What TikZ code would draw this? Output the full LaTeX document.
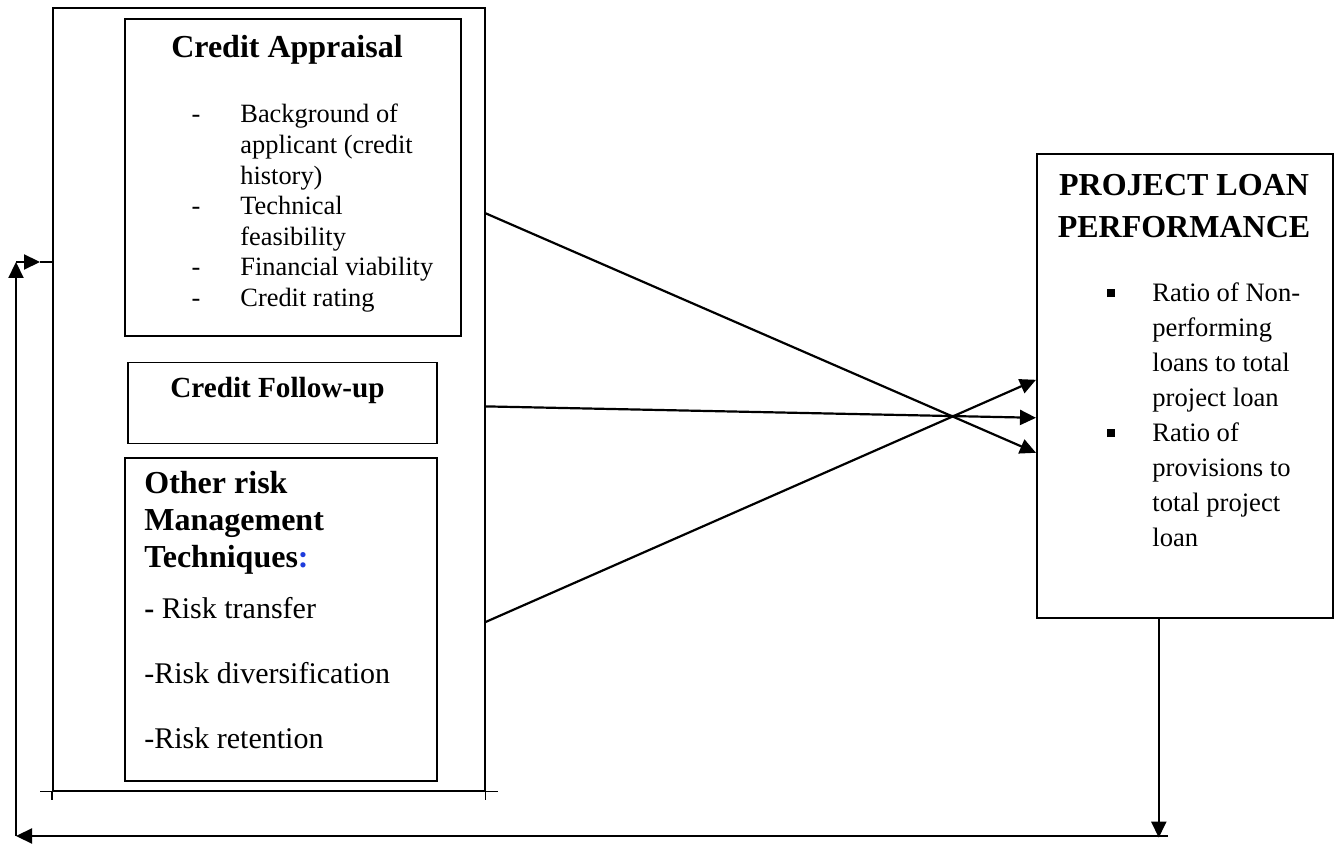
\documentclass[tikz,border=0pt]{standalone}
\usepackage{fontspec}
\setmainfont{Liberation Serif}
\usetikzlibrary{positioning,arrows.meta,calc}
\definecolor{colonblue}{RGB}{30,60,220}
\newcommand{\dashmark}{\llap{-\hspace{20pt}}}
\newcommand{\sqmark}{\llap{\raisebox{2pt}{\rule{4pt}{4pt}}\hspace{18.5pt}}}
\tikzset{box node/.style={draw,line width=0.8pt,inner sep=0pt,anchor=north west},
link/.style={line width=1.1pt,-{Triangle[length=8pt,width=7.5pt]}},
title text/.style={font=\bfseries\fontsize{16}{21}\selectfont,inner sep=0pt},
item text/.style={align=left,inner sep=0pt,anchor=north west}}

\begin{document}
\begin{tikzpicture}[x=0.5pt,y=-0.5pt]
\useasboundingbox (0,0) rectangle (1340,844);
\node[box node,minimum width=216pt,minimum height=391.5pt] (outer) at (52,7) {};
\node[box node,minimum width=168pt,minimum height=158.5pt] (appr) at (124,18) {};
\node[box node,minimum width=154.5pt,minimum height=40.5pt] (fol) [below right=12.5pt and 1.5pt of appr.south west] {};
\node[box node,minimum width=156pt,minimum height=161.5pt] (other) [below right=6.5pt and -1.5pt of fol.south west] {};
\node[box node,minimum width=148pt,minimum height=232pt] (plp) at (1036,153) {};

% texts
\node[title text,anchor=base] (apprtitle) at (287,58) {Credit Appraisal};
\node[item text,font=\fontsize{13.2}{15.3}\selectfont] (apprlist) at (240,104)
{\dashmark Background of\\applicant (credit\\history)\\\dashmark Technical\\feasibility\\
\dashmark Financial viability\\\dashmark Credit rating};
\node[title text,anchor=base,font=\bfseries\fontsize{14.6}{17}\selectfont] (foltitle) at (277.5,398) {Credit Follow-up};
\node[title text,item text,font=\bfseries\fontsize{16}{18.5}\selectfont] (othertitle) at (144,471)
{Other risk\\Management\\Techniques\textcolor{colonblue}{:}};
\node[item text,font=\fontsize{15}{32.5}\selectfont] (otherlist) at (144,596.5)
{\textbf{-} Risk transfer\\-Risk diversification\\-Risk retention};
\node[title text,anchor=north,align=center] (plptitle) at (1184,174) {PROJECT LOAN\\PERFORMANCE};
\node[item text,font=\fontsize{13.3}{17.5}\selectfont] (plplist) at (1152,282)
{\sqmark Ratio of Non-\\performing\\loans to total\\project loan\\\sqmark Ratio of\\provisions to\\total project\\loan};

% box stubs
\draw[line width=0.8pt] ($(outer.south west)+(-12,0)$) -- ($(outer.south east)+(12,0)$)
(outer.south west) -- ++(0,8) (outer.south east) -- ++(0,8);

% arrows
\draw[link] ($(outer.east |- appr)+(0,36)$) -- ($(plp.west)+(0,67)$);
\draw[link] ($(outer.east |- fol)+(0,3.5)$) -- ($(plp.west)+(0,32)$);
\draw[link] ($(outer.east |- other)+(0,2.5)$) -- ($(plp.west)+(0,-6)$);

% feedback
\coordinate (fb end) at (1168,836);
\coordinate (fb corner) at (16,836);
\coordinate (fb top) at (16,262);
\coordinate (fb mid) at (40,262);
\draw[link] ($(plp.south)+(-26,0)$) -- ++(0,219);
\draw[link] (fb end) -- (fb corner);
\draw[link] (fb corner) -- (fb top);
\draw[link] (fb top) -- (fb mid);
\draw[line width=1.1pt] (fb mid) -- (outer.west |- fb top);
\end{tikzpicture}
\end{document}
